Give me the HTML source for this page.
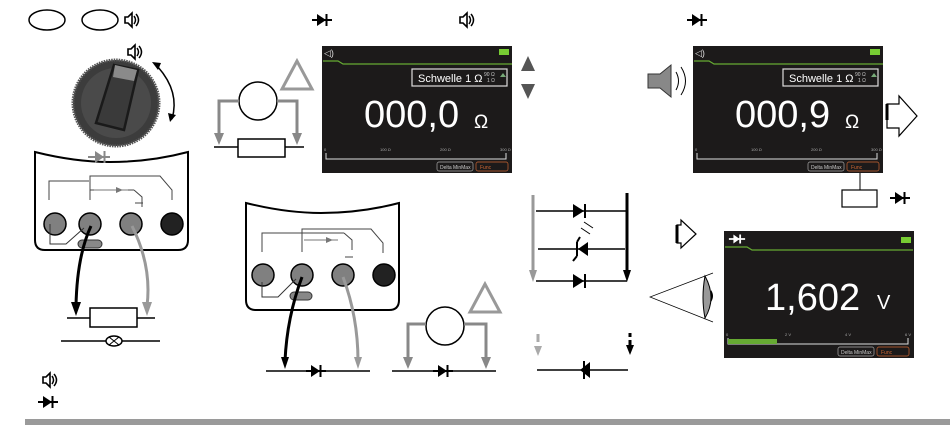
<!DOCTYPE html>
<html><head><meta charset="utf-8"><style>
html,body{margin:0;padding:0;background:#fff;width:950px;height:443px;overflow:hidden}
svg{display:block;font-family:"Liberation Sans",sans-serif}
.big{font-family:"Liberation Sans",sans-serif}
</style></head><body>
<svg width="950" height="443" viewBox="0 0 950 443" xmlns="http://www.w3.org/2000/svg">
<defs>
<g id="spk"><path d="M0,-3 h3 l4,-4 v14 l-4,-4 h-3z" fill="none" stroke="#000" stroke-width="1.6"/><path d="M9,-4 q3,4 0,8 M11,-6 q5,6 0,12" fill="none" stroke="#000" stroke-width="1.5"/></g>
<g id="di"><line x1="-10" y1="0" x2="10" y2="0" stroke="#000" stroke-width="2"/><path d="M-5,-6 L4,0 L-5,6Z" fill="#000"/><line x1="4.5" y1="-6" x2="4.5" y2="6" stroke="#000" stroke-width="2"/></g>
</defs>

<ellipse cx="47" cy="20" rx="18" ry="10" fill="none" stroke="#000" stroke-width="1.5"/>
<ellipse cx="100" cy="20" rx="18" ry="10" fill="none" stroke="#000" stroke-width="1.5"/>
<use href="#spk" x="125" y="20"/>
<use href="#di" x="322" y="20"/>
<use href="#spk" x="460" y="20"/>
<use href="#di" x="697" y="20"/>

<use href="#spk" x="128" y="52"/>
<circle cx="116" cy="103" r="43" fill="#3c3c3c" stroke="#555" stroke-width="3" stroke-dasharray="1.5 1"/>
<circle cx="116" cy="103" r="35" fill="#4a4a4a"/>
<path d="M114,65 l24,5 l-14,60 l-28,-7z" fill="#3a3a3a" stroke="#1a1a1a" stroke-width="2.5"/>
<path d="M115,65 l22,5 l-3,11 l-21,-4z" fill="#8a8a8a"/>
<path d="M158,67 q22,25 14,52" fill="none" stroke="#000" stroke-width="1.5"/>
<path d="M152,62 l9,1 l-3,7z M170,122 l6,-7 l-8,-2z" fill="#000"/>

<path d="M35,152 q40,10 75,10 q40,0 78,-10 L188,240 q0,10 -10,10 L45,250 q-10,0 -10,-10 Z" fill="#fff" stroke="#000" stroke-width="2"/>
<g transform="translate(100,157)"><line x1="-12" y1="0" x2="10" y2="0" stroke="#888" stroke-width="2"/><path d="M-5,-6 L4,0 L-5,6Z" fill="#888"/><line x1="4.5" y1="-6" x2="4.5" y2="6" stroke="#888" stroke-width="2"/></g>
<path d="M49,200 v-19 h40 M90,200 v-24 h70 l12,14 v10 M90,190 h44 M134,190 l8,7 v10 M135,203 h8" fill="none" stroke="#444" stroke-width="1"/>
<g transform="translate(120,190)"><line x1="-26" y1="0" x2="8" y2="0" stroke="#777"/><path d="M-4,-3 L3,0 L-4,3Z" fill="#777"/></g>
<circle cx="55" cy="224" r="11" fill="#808080" stroke="#000" stroke-width="1.5"/>
<circle cx="90" cy="224" r="11" fill="#808080" stroke="#000" stroke-width="1.5"/>
<circle cx="131" cy="224" r="11" fill="#808080" stroke="#000" stroke-width="1.5"/>
<circle cx="172" cy="224" r="11" fill="#222" stroke="#000" stroke-width="1.5"/>
<rect x="78" y="240" width="24" height="8" rx="4" fill="#888" stroke="#333"/>
<path d="M50,224 v20 h16 l18,-16" fill="none" stroke="#333"/>
<path d="M91,226 q-14,30 -15,80" fill="none" stroke="#000" stroke-width="3"/>
<path d="M71,302 l5,14 l5,-14z" fill="#000"/>
<path d="M132,226 q20,40 15,80" fill="none" stroke="#999" stroke-width="3"/>
<path d="M142,302 l5,14 l5,-14z" fill="#999"/>
<line x1="67" y1="318" x2="155" y2="318" stroke="#000" stroke-width="1.5"/>
<rect x="90" y="308" width="47" height="19" fill="#fff" stroke="#000" stroke-width="1.5"/>
<line x1="61" y1="341" x2="160" y2="341" stroke="#000" stroke-width="1.5"/>
<ellipse cx="114" cy="341" rx="8" ry="5" fill="#fff" stroke="#000" stroke-width="1.5"/>
<path d="M109,337 l10,8 M119,337 l-10,8" stroke="#000"/>
<use href="#spk" x="43" y="380"/>
<use href="#di" x="48" y="402"/>

<circle cx="258" cy="101" r="19" fill="#fff" stroke="#000" stroke-width="1.5"/>
<path d="M297,61 l-15,28 h30z" fill="none" stroke="#999" stroke-width="3"/>
<path d="M239,101 h-20 v32 M277,101 h20 v32" fill="none" stroke="#888" stroke-width="3"/>
<path d="M214,133 l5,12 l5,-12z M292,133 l5,12 l5,-12z" fill="#888"/>
<line x1="214" y1="147" x2="304" y2="147" stroke="#000" stroke-width="1.5"/>
<rect x="238" y="139" width="47" height="18" fill="#fff" stroke="#000" stroke-width="1.5"/>

<rect x="322" y="46" width="190" height="127" fill="#1c1a1a"/>
<path d="M323,61 h15 l5,3 h169" stroke="#6a3" stroke-width="1.2" fill="none"/>
<rect x="499" y="49" width="10" height="6" fill="#7c3"/>
<text x="324" y="56" fill="#ddd" font-size="9">◁)</text>
<rect x="412" y="69" width="95" height="17" fill="none" stroke="#ddd" stroke-width="1.2"/>
<text x="418" y="82" fill="#fff" font-size="11">Schwelle 1 Ω</text>
<text x="484" y="76" fill="#ccc" font-size="5">90 Ω</text>
<text x="487" y="82" fill="#ccc" font-size="5">1 Ω</text>
<path d="M500,77 l3,-4 l3,4z" fill="#7a7"/>
<text class="big" x="364" y="127" fill="#fff" font-size="38">000,0</text>
<text class="big" x="474" y="128" fill="#fff" font-size="19">Ω</text>
<text x="324" y="151" fill="#aaa" font-size="4">0</text><text x="380" y="151" fill="#aaa" font-size="4">100 Ω</text><text x="440" y="151" fill="#aaa" font-size="4">200 Ω</text><text x="500" y="151" fill="#aaa" font-size="4">300 Ω</text>
<path d="M326,153 v6 h180 v-6" fill="none" stroke="#ddd"/>
<rect x="437" y="162" width="36" height="9" rx="2" fill="none" stroke="#aaa" stroke-width=".7"/>
<text x="440" y="169" fill="#ccc" font-size="5">Delta  MinMax</text>
<rect x="476" y="162" width="32" height="9" rx="2" fill="none" stroke="#c63" stroke-width=".7"/>
<text x="480" y="169" fill="#c63" font-size="5">Func</text>
<path d="M528,56 l7,15 h-14z M521,84 h14 l-7,15z" fill="#555"/>

<path d="M648,74 h12 l11,-9 v32 l-11,-9 h-12z" fill="#888" stroke="#333" stroke-width="1"/>
<path d="M676,72 q5,9 0,18 M681,67 q9,14 0,28" fill="none" stroke="#000"/>
<rect x="693" y="46" width="190" height="127" fill="#1c1a1a"/>
<path d="M694,61 h15 l5,3 h169" stroke="#6a3" stroke-width="1.2" fill="none"/>
<rect x="870" y="49" width="10" height="6" fill="#7c3"/>
<text x="695" y="56" fill="#ddd" font-size="9">◁)</text>
<rect x="783" y="69" width="95" height="17" fill="none" stroke="#ddd" stroke-width="1.2"/>
<text x="789" y="82" fill="#fff" font-size="11">Schwelle 1 Ω</text>
<text x="855" y="76" fill="#ccc" font-size="5">90 Ω</text>
<text x="858" y="82" fill="#ccc" font-size="5">1 Ω</text>
<path d="M871,77 l3,-4 l3,4z" fill="#7a7"/>
<text class="big" x="735" y="127" fill="#fff" font-size="38">000,9</text>
<text class="big" x="845" y="128" fill="#fff" font-size="19">Ω</text>
<text x="695" y="151" fill="#aaa" font-size="4">0</text><text x="751" y="151" fill="#aaa" font-size="4">100 Ω</text><text x="811" y="151" fill="#aaa" font-size="4">200 Ω</text><text x="871" y="151" fill="#aaa" font-size="4">300 Ω</text>
<path d="M697,153 v6 h180 v-6" fill="none" stroke="#ddd"/>
<rect x="808" y="162" width="36" height="9" rx="2" fill="none" stroke="#aaa" stroke-width=".7"/>
<text x="811" y="169" fill="#ccc" font-size="5">Delta  MinMax</text>
<rect x="847" y="162" width="32" height="9" rx="2" fill="none" stroke="#c63" stroke-width=".7"/>
<text x="851" y="169" fill="#c63" font-size="5">Func</text>
<path d="M887,104 h12 v-8 l18,20 l-18,20 v-8 h-12z" fill="#fff" stroke="#000" stroke-width="1.2"/>
<path d="M887,104 v16" stroke="#000" stroke-width="3"/>
<line x1="860" y1="173" x2="860" y2="190" stroke="#000"/>
<rect x="842" y="190" width="35" height="17" fill="#fff" stroke="#000" stroke-width="1.2"/>
<use href="#di" x="900" y="198"/>

<line x1="533" y1="195" x2="533" y2="272" stroke="#999" stroke-width="3"/>
<path d="M529,270 l4,12 l4,-12z" fill="#999"/>
<line x1="627" y1="193" x2="627" y2="272" stroke="#000" stroke-width="3"/>
<path d="M623,270 l4,12 l4,-12z" fill="#000"/>
<line x1="536" y1="211" x2="627" y2="211" stroke="#000" stroke-width="1.5"/>
<path d="M573,204 L584,211 L573,218Z" fill="#000"/><line x1="585" y1="204" x2="585" y2="218" stroke="#000" stroke-width="2"/>
<line x1="538" y1="249" x2="625" y2="249" stroke="#000" stroke-width="1.5"/>
<path d="M588,242 l-10,7 l10,7z" fill="#000"/><path d="M577,242 v14 M577,242 l3,-5 M577,256 l-4,5" stroke="#000" stroke-width="2" fill="none"/>
<path d="M584,222 l9,6 M581,228 l9,6" stroke="#000"/>
<line x1="536" y1="281" x2="627" y2="281" stroke="#000" stroke-width="1.5"/>
<path d="M573,274 L584,281 L573,288Z" fill="#000"/><line x1="585" y1="274" x2="585" y2="288" stroke="#000" stroke-width="2"/>
<path d="M538,334 v8 M538,346 v2" stroke="#aaa" stroke-width="3"/><path d="M534,346 l4,10 l4,-10z" fill="#aaa"/>
<path d="M630,333 v4 M630,340 v6" stroke="#000" stroke-width="3"/><path d="M626,345 l4,10 l4,-10z" fill="#000"/>
<line x1="537" y1="370" x2="628" y2="370" stroke="#000" stroke-width="1.5"/>
<path d="M590,362 l-10,8 l10,8z" fill="#000"/><line x1="584" y1="361" x2="584" y2="379" stroke="#000" stroke-width="2"/>

<path d="M246,203 q40,10 75,10 q40,0 78,-10 L399,300 q0,10 -10,10 L256,310 q-10,0 -10,-10 Z" fill="#fff" stroke="#000" stroke-width="2"/>
<path d="M262,252 v-19 h40 M302,252 v-23 h69 l12,14 v10 M302,233 h42 M344,233 l8,7 v10 M345,257 h8" fill="none" stroke="#444" stroke-width="1"/>
<g transform="translate(330,240)"><line x1="-26" y1="0" x2="8" y2="0" stroke="#777"/><path d="M-4,-3 L3,0 L-4,3Z" fill="#777"/></g>
<circle cx="263" cy="275" r="11" fill="#808080" stroke="#000" stroke-width="1.5"/>
<circle cx="302" cy="275" r="11" fill="#808080" stroke="#000" stroke-width="1.5"/>
<circle cx="343" cy="275" r="11" fill="#808080" stroke="#000" stroke-width="1.5"/>
<circle cx="384" cy="275" r="11" fill="#222" stroke="#000" stroke-width="1.5"/>
<rect x="290" y="292" width="22" height="8" rx="4" fill="#888" stroke="#333"/>
<path d="M262,282 v15 h16 l18,-18" fill="none" stroke="#333"/>
<path d="M302,277 q-15,40 -17,84" fill="none" stroke="#000" stroke-width="3"/>
<path d="M281,357 l4,12 l4,-12z" fill="#000"/>
<path d="M343,277 q15,40 15,84" fill="none" stroke="#999" stroke-width="3"/>
<path d="M354,357 l4,12 l4,-12z" fill="#999"/>
<line x1="266" y1="371" x2="370" y2="371" stroke="#000" stroke-width="1.5"/>
<use href="#di" x="316" y="371"/>
<circle cx="445" cy="326" r="19" fill="#fff" stroke="#000" stroke-width="1.5"/>
<path d="M485,284 l-15,28 h30z" fill="none" stroke="#999" stroke-width="3"/>
<path d="M426,324 h-18 v34 M464,324 h22 v34" fill="none" stroke="#888" stroke-width="3"/>
<path d="M403,357 l5,12 l5,-12z M481,357 l5,12 l5,-12z" fill="#888"/>
<line x1="392" y1="371" x2="496" y2="371" stroke="#000" stroke-width="1.5"/>
<use href="#di" x="443" y="371"/>

<path d="M677,225 h4 v-5 l15,14 l-15,14 v-5 h-4z" fill="#fff" stroke="#000" stroke-width="1.2"/>
<path d="M677,225 v18" stroke="#000" stroke-width="3"/>
<path d="M713,273 L650,297 L713,322" fill="none" stroke="#000" stroke-width=".7"/>
<path d="M705,276 q-4,22 0,42 q12,-20 0,-42z" fill="#999" stroke="#000"/>
<path d="M711,290 q4,6 0,12z" fill="#000"/>
<rect x="724" y="231" width="190" height="127" fill="#1c1a1a"/>
<path d="M725,247 h22 l5,3 h161" stroke="#6a3" stroke-width="1.2" fill="none"/>
<rect x="901" y="237" width="10" height="6" fill="#7c3"/>
<g transform="translate(737,239) scale(.9)"><line x1="-9" y1="0" x2="9" y2="0" stroke="#fff" stroke-width="2"/><path d="M-4,-5 L3,0 L-4,5Z" fill="#fff"/><line x1="3.5" y1="-5" x2="3.5" y2="5" stroke="#fff" stroke-width="2"/></g>
<text class="big" x="765" y="310" fill="#fff" font-size="38">1,602</text>
<text class="big" x="877" y="309" fill="#fff" font-size="20">V</text>
<text x="726" y="336" fill="#aaa" font-size="4">0</text><text x="785" y="336" fill="#aaa" font-size="4">2 V</text><text x="845" y="336" fill="#aaa" font-size="4">4 V</text><text x="905" y="336" fill="#aaa" font-size="4">6 V</text>
<path d="M728,338 v6 h180 v-6" fill="none" stroke="#ddd"/>
<rect x="728" y="339" width="49" height="5" fill="#6a3"/>
<rect x="838" y="347" width="36" height="9" rx="2" fill="none" stroke="#aaa" stroke-width=".7"/>
<text x="841" y="354" fill="#ccc" font-size="5">Delta  MinMax</text>
<rect x="877" y="347" width="32" height="9" rx="2" fill="none" stroke="#c63" stroke-width=".7"/>
<text x="881" y="354" fill="#c63" font-size="5">Func</text>

<rect x="25" y="419" width="925" height="6" fill="#9a9a9a"/>
</svg>
</body></html>
